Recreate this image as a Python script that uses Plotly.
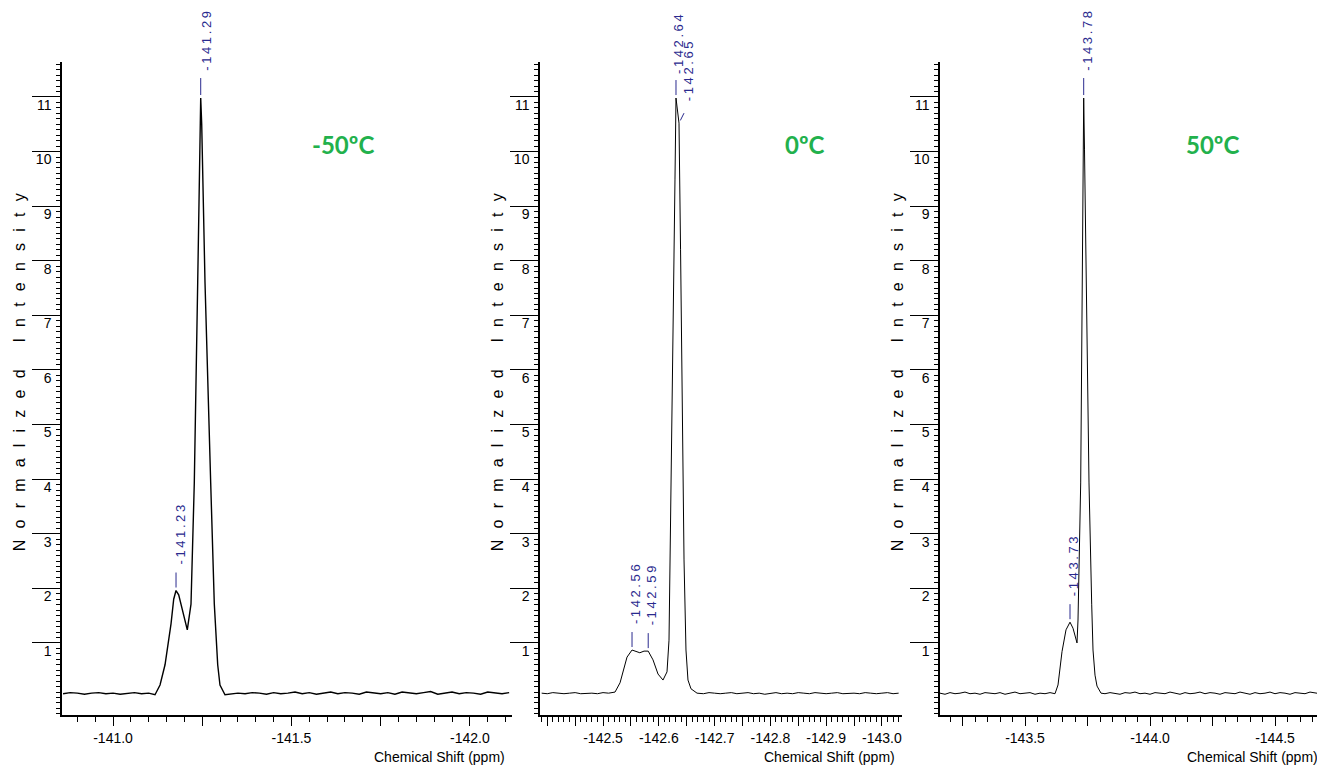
import plotly.graph_objects as go

# ---------------- data ----------------
temps = ["-50ºC", "0ºC", "50ºC"]

# Panel 1 (-50 C)
shift_1 = ([-140.86, -140.88, -140.90, -140.92, -140.94, -140.96, -140.98, -141.00,
            -141.02, -141.04, -141.06, -141.08, -141.10]
           + [-141.1176, -141.1317, -141.1457, -141.1625, -141.1700, -141.1765, -141.1840,
              -141.1924, -141.2081, -141.2185, -141.2277, -141.2373, -141.2430, -141.2457,
              -141.2485, -141.2577, -141.2737, -141.2838, -141.2933, -141.2997, -141.3137]
           + [-141.33, -141.35, -141.37, -141.39, -141.41, -141.43, -141.45, -141.47,
              -141.49, -141.51, -141.53, -141.55, -141.57, -141.59, -141.61, -141.63,
              -141.65, -141.67, -141.69, -141.71, -141.73, -141.75, -141.77, -141.79,
              -141.81, -141.83, -141.85, -141.87, -141.89, -141.91, -141.93, -141.95,
              -141.97, -141.99, -142.01, -142.03, -142.05, -142.07, -142.09, -142.11])
intensity_1 = ([0.07, 0.09, 0.08, 0.06, 0.08, 0.09, 0.07, 0.08, 0.06, 0.08, 0.09, 0.07, 0.08]
               + [0.05, 0.23, 0.60, 1.35, 1.80, 1.96, 1.88, 1.64, 1.24, 1.71, 3.93, 7.61,
                  10.5, 10.98, 10.5, 7.61, 3.93, 1.71, 0.60, 0.23, 0.05]
               + [0.06, 0.08, 0.07, 0.09, 0.08, 0.06, 0.09, 0.07, 0.08, 0.10, 0.07, 0.09,
                  0.06, 0.08, 0.10, 0.07, 0.09, 0.08, 0.06, 0.10, 0.08, 0.07, 0.09, 0.06,
                  0.10, 0.08, 0.07, 0.09, 0.11, 0.06, 0.08, 0.10, 0.07, 0.09, 0.08, 0.06,
                  0.10, 0.08, 0.07, 0.09])

# Panel 2 (0 C)
shift_2 = ([-142.39, -142.40, -142.41, -142.42, -142.43, -142.44, -142.45, -142.46,
            -142.47, -142.48, -142.49, -142.50, -142.51]
           + [-142.5215, -142.5305, -142.5430, -142.5520, -142.5590, -142.5660, -142.5735,
              -142.5810, -142.5896, -142.5986, -142.6075, -142.6147, -142.6183, -142.6219,
              -142.6254, -142.6290, -142.6308, -142.6335, -142.6362, -142.6390, -142.6416,
              -142.6452, -142.6487, -142.6523, -142.6577, -142.6685]
           + [-142.68, -142.69, -142.70, -142.71, -142.72, -142.73, -142.74, -142.75,
              -142.76, -142.77, -142.78, -142.79, -142.80, -142.81, -142.82, -142.83,
              -142.84, -142.85, -142.86, -142.87, -142.88, -142.89, -142.90, -142.91,
              -142.92, -142.93, -142.94, -142.95, -142.96, -142.97, -142.98, -142.99,
              -143.00, -143.01, -143.02, -143.03])
intensity_2 = ([0.08, 0.07, 0.09, 0.08, 0.07, 0.08, 0.09, 0.07, 0.08, 0.08, 0.07, 0.09, 0.08]
               + [0.10, 0.27, 0.74, 0.87, 0.84, 0.82, 0.85, 0.85, 0.69, 0.43, 0.32, 0.47,
                  1.05, 3.62, 6.37, 9.48, 10.98, 10.76, 10.52, 8.20, 5.45, 2.52, 0.87,
                  0.32, 0.16, 0.08]
               + [0.07, 0.09, 0.08, 0.07, 0.08, 0.09, 0.07, 0.08, 0.09, 0.07, 0.08, 0.06,
                  0.08, 0.09, 0.07, 0.08, 0.07, 0.09, 0.08, 0.07, 0.09, 0.08, 0.07, 0.08,
                  0.09, 0.07, 0.08, 0.08, 0.07, 0.09, 0.08, 0.07, 0.08, 0.09, 0.07, 0.08])

# Panel 3 (50 C)
shift_3 = ([-143.16, -143.18, -143.20, -143.22, -143.24, -143.26, -143.28, -143.30,
            -143.32, -143.34, -143.36, -143.38, -143.40, -143.42, -143.44, -143.46,
            -143.48, -143.50, -143.52, -143.54, -143.56, -143.58, -143.60]
           + [-143.620, -143.632, -143.648, -143.664, -143.680, -143.692, -143.708, -143.712,
              -143.7228, -143.728, -143.732, -143.7348, -143.738, -143.744, -143.756,
              -143.7668, -143.772, -143.780, -143.788, -143.804]
           + [-143.82, -143.84, -143.86, -143.88, -143.90, -143.92, -143.94, -143.96,
              -143.98, -144.00, -144.02, -144.04, -144.06, -144.08, -144.10, -144.12,
              -144.14, -144.16, -144.18, -144.20, -144.22, -144.24, -144.26, -144.28,
              -144.30, -144.32, -144.34, -144.36, -144.38, -144.40, -144.42, -144.44,
              -144.46, -144.48, -144.50, -144.52, -144.54, -144.56, -144.58, -144.60,
              -144.62, -144.64, -144.66, -144.68, -144.70])
intensity_3 = ([0.08, 0.06, 0.09, 0.07, 0.08, 0.10, 0.07, 0.08, 0.06, 0.09, 0.08, 0.07,
                0.09, 0.06, 0.08, 0.10, 0.07, 0.08, 0.09, 0.06, 0.08, 0.07, 0.09]
               + [0.07, 0.23, 0.84, 1.24, 1.38, 1.27, 1.00, 1.42, 3.93, 7.61, 10.03, 10.98,
                  10.03, 7.61, 3.93, 1.71, 0.87, 0.41, 0.21, 0.08]
               + [0.07, 0.09, 0.08, 0.06, 0.09, 0.08, 0.10, 0.07, 0.08, 0.06, 0.09, 0.08,
                  0.07, 0.10, 0.08, 0.06, 0.09, 0.07, 0.08, 0.10, 0.07, 0.09, 0.08, 0.06,
                  0.09, 0.08, 0.07, 0.10, 0.08, 0.06, 0.09, 0.07, 0.08, 0.10, 0.07, 0.09,
                  0.08, 0.06, 0.09, 0.08, 0.07, 0.10, 0.08, 0.07, 0.09])

# peak labels
peak_panel = [1, 1, 2, 2, 2, 2, 3, 3]
peak_shift = [-141.2457, -141.1765, -142.6308, -142.6362, -142.5520, -142.5810, -143.7348, -143.6800]
peak_int = [10.98, 1.96, 10.98, 10.52, 0.87, 0.85, 10.98, 1.38]
peak_text = ["-141.29", "-141.23", "-142.64", "-142.65", "-142.56", "-142.59", "-143.78", "-143.73"]

# axis ranges / ticks
x_ranges = [[-140.857, -142.118], [-142.387, -143.036], [-143.16, -144.70]]
x_major = [
    [-141.0, -141.25, -141.5, -141.75, -142.0],
    [-142.4, -142.45, -142.5, -142.55, -142.6, -142.65, -142.7, -142.75, -142.8, -142.85, -142.9, -142.95, -143.0],
    [-143.25, -143.5, -143.75, -144.0, -144.25, -144.5],
]
x_major_text = [
    ["-141.0", "", "-141.5", "", "-142.0"],
    ["", "", "-142.5", "", "-142.6", "", "-142.7", "", "-142.8", "", "-142.9", "", "-143.0"],
    ["", "-143.5", "", "-144.0", "", "-144.5"],
]
x_minor_step = [0.05, 0.01, 0.05]
y_ticks = [1, 2, 3, 4, 5, 6, 7, 8, 9, 10, 11]
y_range = [-0.32, 11.64]

# ---------------- figure ----------------
# the page body has an 8px margin: build the figure 8px smaller and shifted
OFF = 8
W, H = 1325 - OFF, 770 - OFF
MT, MB = 62 - OFF, 770 - 715
dom_px = [(62 - OFF, 512 - OFF), (540 - OFF, 902 - OFF), (940 - OFF, 1325 - OFF)]
domains = [[a / W, min(1.0, b / W)] for a, b in dom_px]

FONT = "Liberation Sans Narrow, Arial Narrow, Liberation Sans, Arial, sans-serif"
NAVY = "#2a2a8e"
GREEN = "#22b14c"

fig = go.Figure()
xs = [shift_1, shift_2, shift_3]
ys = [intensity_1, intensity_2, intensity_3]
widths = [1.4, 1.0, 1.0]
for i in range(3):
    sfx = "" if i == 0 else str(i + 1)
    fig.add_trace(go.Scatter(x=xs[i], y=ys[i], mode="lines",
                             line=dict(color="black", width=widths[i]),
                             xaxis="x" + sfx, yaxis="y" + sfx, showlegend=False,
                             hoverinfo="skip"))


def spaced(t, sep="\u2009"):
    return sep.join(list(t))


layout = dict(
    width=W, height=H, margin=dict(l=0, r=0, t=MT, b=MB),
    paper_bgcolor="white", plot_bgcolor="white",
    font=dict(family=FONT, size=14, color="black"),
    showlegend=False,
)
annotations = []
for i in range(3):
    sfx = "" if i == 0 else str(i + 1)
    layout["xaxis" + sfx] = dict(
        domain=domains[i], anchor="y" + sfx, range=x_ranges[i],
        showgrid=False, zeroline=False, showline=True, linecolor="black", linewidth=1.5,
        ticks="outside", ticklen=9, tickwidth=1.2, tickcolor="black",
        tickmode="array", tickvals=x_major[i], ticktext=x_major_text[i],
        tickfont=dict(family=FONT, size=14, color="black"),
        minor=dict(ticks="outside", ticklen=5, tickwidth=1, tickcolor="black",
                   dtick=x_minor_step[i], tick0=0, showgrid=False),
    )
    layout["yaxis" + sfx] = dict(
        domain=[0, 1], anchor="x" + sfx, range=y_range,
        showgrid=False, zeroline=False, showline=True, linecolor="black", linewidth=1.5,
        ticks="outside", ticklen=28, tickwidth=1.2, tickcolor="black",
        tickmode="array", tickvals=y_ticks, ticktext=[str(v) for v in y_ticks],
        tickfont=dict(family=FONT, size=14, color="black"),
        ticklabelstandoff=-22, ticklabelshift=8,
        minor=dict(ticks="outside", ticklen=4, tickwidth=1, tickcolor="black",
                   dtick=0.1, tick0=0, showgrid=False),
    )
    annotations.append(dict(
        text="Chemical Shift (ppm)", xref="x" + sfx + " domain", yref="paper",
        x=1, y=-0.0643, xanchor="right", yanchor="middle", showarrow=False,
        xshift=-5, font=dict(family=FONT, size=14, color="black")))
    annotations.append(dict(
        text=spaced("Normalized Intensity", "\u2002\u2009"),
        xref="x" + sfx + " domain", yref="paper", x=0, y=0.525,
        xanchor="center", yanchor="middle", textangle=-90, showarrow=False,
        xshift=-43, font=dict(family=FONT, size=16, color="black")))

temp_pos = [0.624, 0.732, 0.709]
for i in range(3):
    sfx = "" if i == 0 else str(i + 1)
    annotations.append(dict(
        text="<b>" + temps[i] + "</b>", xref="x" + sfx + " domain", yref="paper",
        x=temp_pos[i], y=0.874, xanchor="center", yanchor="middle", showarrow=False,
        font=dict(family="Lato, Open Sans, sans-serif", size=24, color=GREEN)))

# label styling offsets (pixels)
lead_ax = [0, 0, 0, 6, 0, 0, 0, 0]
lead_ay = [-22, -20, -20, -12, -20, -20, -22, -20]
text_xs = [5, 5, 2, 9, 3, 3, 3, 3]
text_ys = [25, 24, 22, 20, 24, 24, 25, 24]
for k in range(len(peak_text)):
    p = peak_panel[k]
    sfx = "" if p == 1 else str(p)
    annotations.append(dict(
        text=" ", xref="x" + sfx, yref="y" + sfx,
        x=peak_shift[k], y=peak_int[k], showarrow=True, arrowhead=0,
        arrowwidth=1, arrowcolor=NAVY, ax=lead_ax[k], ay=lead_ay[k], standoff=3,
        font=dict(size=1, color=NAVY)))
    annotations.append(dict(
        text=spaced(peak_text[k]), xref="x" + sfx, yref="y" + sfx,
        x=peak_shift[k], y=peak_int[k], showarrow=False,
        textangle=-90, xanchor="center", yanchor="bottom",
        xshift=text_xs[k], yshift=text_ys[k],
        font=dict(family=FONT, size=13, color=NAVY)))

layout["annotations"] = annotations
fig.update_layout(**layout)
fig.write_html("out.html")
